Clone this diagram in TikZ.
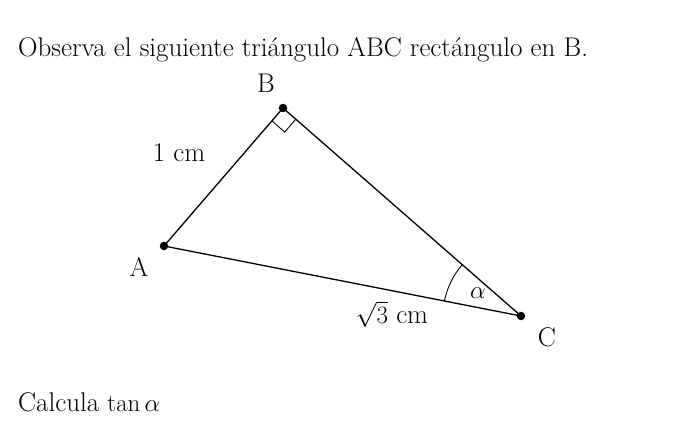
\documentclass[tikz,border=0pt]{standalone}
\usetikzlibrary{angles}
\begin{document}
\begin{tikzpicture}[x=1pt,y=1pt,
    vertex/.style={circle, fill=black, inner sep=0pt, minimum size=8.5pt},
    lbl/.style={font=\fontsize{27}{32}\selectfont}]
    % Canvas
    \useasboundingbox (0,0) rectangle (687,421);
    
    % Statement
    \node[lbl, anchor=base west, inner sep=0pt] (intro) at (18,364) {Observa el siguiente tri\'angulo ABC rect\'angulo en B.};
    \node[lbl, anchor=base west, inner sep=0pt] (task) at (18,10) {Calcula $\tan\alpha$};
    
    % Vertices
    \coordinate (A) at (164,175);
    \coordinate (B) at (283,313);
    \coordinate (C) at (521,105);
    
    % Sides
    \draw[line width=1.3pt] (A) -- (B) -- (C) -- cycle;
    
    % Angle marks
    \pic[draw, line width=0.9pt, angle radius=17pt] {right angle=A--B--C};
    \pic[draw, line width=0.9pt, angle radius=78pt] {angle=B--C--A};
    
    % Vertex dots
    \node[vertex] (dotA) at (A) {};
    \node[vertex] (dotB) at (B) {};
    \node[vertex] (dotC) at (C) {};
    
    % Vertex labels
    \node[lbl] (labA) at (139,154) {A};
    \node[lbl] (labB) at (266,338) {B};
    \node[lbl] (labC) at (547,84) {C};
    
    % Side lengths and angle
    \node[lbl] (sideAB) at (179,268) {1 cm};
    \node[lbl] (sideAC) at (392,107) {$\sqrt{3}$ cm};
    \node[lbl] (alpha) at (478,128) {$\alpha$};
\end{tikzpicture}
\end{document}
